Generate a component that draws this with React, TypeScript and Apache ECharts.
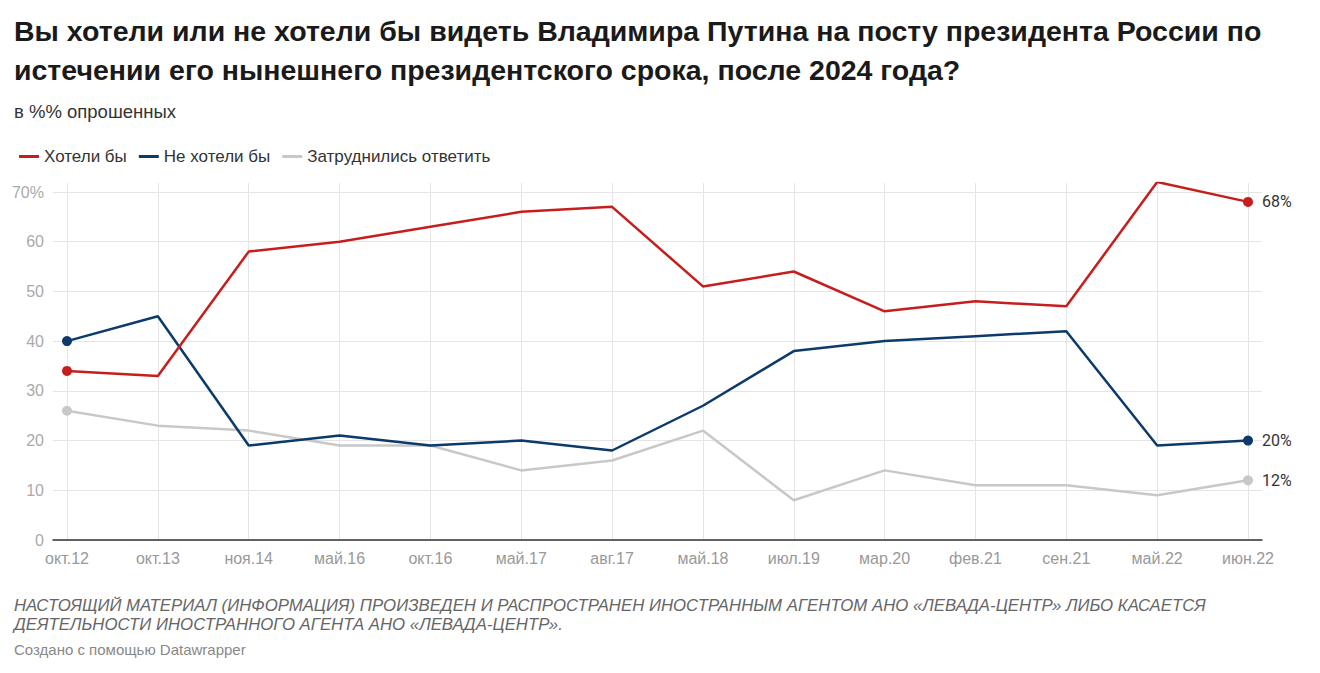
import React, { useEffect, useRef } from "react";
import * as echarts from "echarts";

const categories = ["окт.12", "окт.13", "ноя.14", "май.16", "окт.16", "май.17", "авг.17", "май.18", "июл.19", "мар.20", "фев.21", "сен.21", "май.22", "июн.22"];
const wouldLike = [34, 33, 58, 60, 63, 66, 67, 51, 54, 46, 48, 47, 72, 68];
const wouldNotLike = [40, 45, 19, 21, 19, 20, 18, 27, 38, 40, 41, 42, 19, 20];
const hardToSay = [26, 23, 22, 19, 19, 14, 16, 22, 8, 14, 11, 11, 9, 12];
const seriesNames = ["Хотели бы", "Не хотели бы", "Затруднились ответить"];
const seriesColors = ["#c71e1d", "#0b3a6b", "#c8c8c8"];
const yTicks = [0, 10, 20, 30, 40, 50, 60, 70];

const titleLines = [
  "Вы хотели или не хотели бы видеть Владимира Путина на посту президента России по",
  "истечении его нынешнего президентского срока, после 2024 года?",
];
const subtitle = "в %% опрошенных";
const noteLines = [
  "НАСТОЯЩИЙ МАТЕРИАЛ (ИНФОРМАЦИЯ) ПРОИЗВЕДЕН И РАСПРОСТРАНЕН ИНОСТРАННЫМ АГЕНТОМ АНО «ЛЕВАДА-ЦЕНТР» ЛИБО КАСАЕТСЯ",
  "ДЕЯТЕЛЬНОСТИ ИНОСТРАННОГО АГЕНТА АНО «ЛЕВАДА-ЦЕНТР».",
];
const credit = "Создано с помощью Datawrapper";

const SANS = "'Liberation Sans', Arial, Helvetica, sans-serif";

function buildData(values: number[]) {
  const last = values.length - 1;
  return values.map((v, i) => {
    if (i === 0) return { value: v, symbol: "circle", symbolSize: 10 };
    if (i === last)
      return {
        value: v,
        symbol: "circle",
        symbolSize: 10,
        label: {
          show: true,
          position: "right",
          distance: 9,
          formatter: "{c}%",
          color: "#333333",
          fontSize: 16,
          fontFamily: "Roboto",
        },
      };
    return { value: v, symbol: "none" };
  });
}

export default function App() {
  const ref = useRef<HTMLDivElement>(null);
  useEffect(() => {
    if (!ref.current) return;
    const chart = echarts.init(ref.current, null, { renderer: "svg" });
    const allSeries = [wouldLike, wouldNotLike, hardToSay];
    const option: any = {
      animation: false,
      backgroundColor: "#ffffff",
      textStyle: { fontFamily: SANS },
      legend: {
        left: 14,
        top: 143,
        icon: "rect",
        itemWidth: 20,
        itemHeight: 3,
        itemGap: 12,
        textStyle: { color: "#333333", fontSize: 17, fontFamily: SANS },
        data: seriesNames.map((n, i) => ({ name: n, itemStyle: { color: seriesColors[i] } })),
      },
      grid: [
        { left: 53, right: 58, top: 192, bottom: 133 },
        { left: 67, right: 72, top: 183, bottom: 133 },
      ],
      xAxis: [
        {
          gridIndex: 0,
          type: "value",
          min: 0,
          max: 1,
          axisLine: { show: true, lineStyle: { color: "#333333", width: 1.5 } },
          axisTick: { show: false },
          axisLabel: { show: false },
          splitLine: { show: false },
        },
        {
          gridIndex: 1,
          type: "category",
          data: categories,
          boundaryGap: false,
          axisLine: { show: false },
          axisTick: { show: false },
          axisLabel: { color: "#999999", fontSize: 16, margin: 10, fontFamily: SANS },
          splitLine: { show: true, lineStyle: { color: "#e5e5e5", width: 1 } },
        },
      ],
      yAxis: [
        {
          gridIndex: 0,
          type: "value",
          min: yTicks[0],
          max: yTicks[yTicks.length - 1],
          interval: 10,
          axisLine: { show: false },
          axisTick: { show: false },
          axisLabel: {
            color: "#aaaaaa",
            fontSize: 16,
            margin: 9,
            fontFamily: SANS,
            formatter: (v: number) => (v === 70 ? v + "%" : String(v)),
          },
          splitLine: { show: true, lineStyle: { color: "#e5e5e5", width: 1 } },
        },
        {
          gridIndex: 1,
          type: "value",
          min: 0,
          max: 71.8,
          show: false,
          splitLine: { show: false },
        },
      ],
      series: allSeries.map((vals, i) => ({
        name: seriesNames[i],
        type: "line",
        xAxisIndex: 1,
        yAxisIndex: 1,
        data: buildData(vals),
        color: seriesColors[i],
        lineStyle: { width: 2.5, color: seriesColors[i] },
        itemStyle: { color: seriesColors[i] },
        showSymbol: true,
        z: 10 - i,
      })).reverse(),
      graphic: [
        ...titleLines.map((t, i) => ({
          type: "text",
          x: 14,
          y: 31 + i * 39,
          style: {
            text: t,
            fill: "#1a1a1a",
            font: "bold 28.5px " + SANS,
            verticalAlign: "middle",
          },
        })),
        {
          type: "text",
          x: 14,
          y: 111,
          style: {
            text: subtitle,
            fill: "#333333",
            font: "18.5px " + SANS,
            verticalAlign: "middle",
          },
        },
        ...noteLines.map((t, i) => ({
          type: "text",
          x: 14,
          y: 605 + i * 19,
          style: {
            text: t,
            fill: "#666666",
            font: "italic 16.8px " + SANS,
            verticalAlign: "middle",
          },
        })),
        {
          type: "text",
          x: 14,
          y: 649,
          style: {
            text: credit,
            fill: "#888888",
            font: "15px " + SANS,
            verticalAlign: "middle",
          },
        },
      ],
    };
    chart.setOption(option);
    return () => chart.dispose();
  }, []);
  return (
    <div
      ref={ref}
      style={{ position: "fixed", left: 0, top: 0, width: 1320, height: 673, background: "#fff" }}
    />
  );
}
